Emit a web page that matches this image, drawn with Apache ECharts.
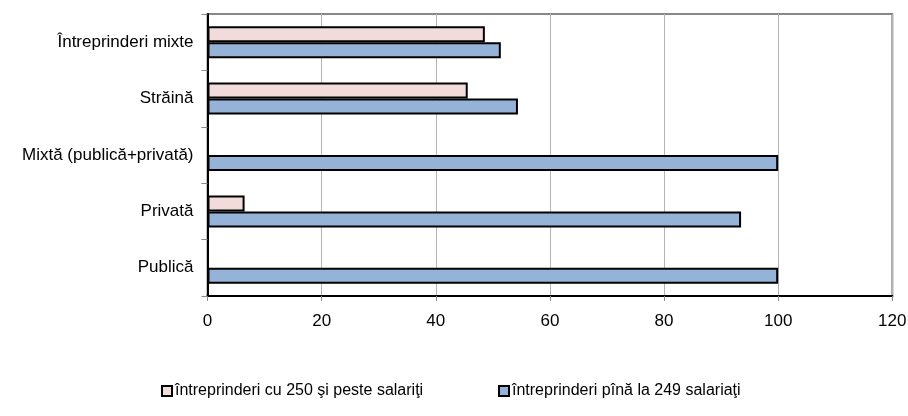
<!DOCTYPE html>
<html><head><meta charset="utf-8">
<script src="https://cdn.jsdelivr.net/npm/echarts@6/dist/echarts.min.js"></script>
<style>html,body{margin:0;padding:0;background:#fff}#c{width:908px;height:416px}</style>
</head><body><div id="c"></div>
<script>
var categories = ['Întreprinderi mixte', 'Străină', 'Mixtă (publică+privată)', 'Privată', 'Publică'];
var seriesNames = ['întreprinderi cu 250 şi peste salariţi', 'întreprinderi pînă la 249 salariaţi'];
var large = [48.6, 45.6, 0, 6.5, 0];
var small = [51.4, 54.4, 100, 93.5, 100];
var xTicks = [0, 20, 40, 60, 80, 100, 120];

function noZero(arr) { return arr.map(function (v) { return v === 0 ? '-' : v; }); }

var chart = echarts.init(document.getElementById('c'), null, {renderer: 'canvas'});
var font = '"Liberation Sans", Arial, sans-serif';
chart.setOption({
  animation: false,
  backgroundColor: '#fff',
  grid: {left: 207.5, right: 15.7, top: 14, bottom: 120, outerBoundsMode: 'none', containLabel: false,
         show: true, borderColor: '#888', borderWidth: 2, backgroundColor: 'transparent'},
  legend: [
    {data: [seriesNames[0]], left: 156, top: 378, itemWidth: 10, itemHeight: 10, itemGap: 4,
     textStyle: {fontFamily: font, fontSize: 16, color: '#000', padding: [0,0,0,-2]}, icon: 'rect'},
    {data: [seriesNames[1]], left: 493, top: 378, itemWidth: 10, itemHeight: 10, itemGap: 4,
     textStyle: {fontFamily: font, fontSize: 16, color: '#000', padding: [0,0,0,-2]}, icon: 'rect'}
  ],
  xAxis: {
    type: 'value', min: xTicks[0], max: xTicks[xTicks.length - 1], interval: 20,
    axisLine: {show: true, lineStyle: {color: '#000', width: 2}},
    axisTick: {show: true, length: 5, lineStyle: {color: '#888'}},
    axisLabel: {fontFamily: font, fontSize: 17, color: '#000', margin: 17},
    splitLine: {show: true, lineStyle: {color: '#b4b4b4', width: 1}}
  },
  yAxis: {
    type: 'category', data: categories, inverse: true,
    axisLine: {show: true, lineStyle: {color: '#000', width: 2}},
    axisTick: {show: true, length: 6, lineStyle: {color: '#888'}},
    axisLabel: {fontFamily: font, fontSize: 17, color: '#000', margin: 14}
  },
  series: [
    {name: seriesNames[0], type: 'bar', data: noZero(large), barWidth: 16, barGap: '0%',
     itemStyle: {color: '#f2dcdb', borderColor: '#000', borderWidth: 2}},
    {name: seriesNames[1], type: 'bar', data: noZero(small), barWidth: 16, barGap: '0%',
     itemStyle: {color: '#95b3d7', borderColor: '#000', borderWidth: 2}}
  ]
});
</script></body></html>
